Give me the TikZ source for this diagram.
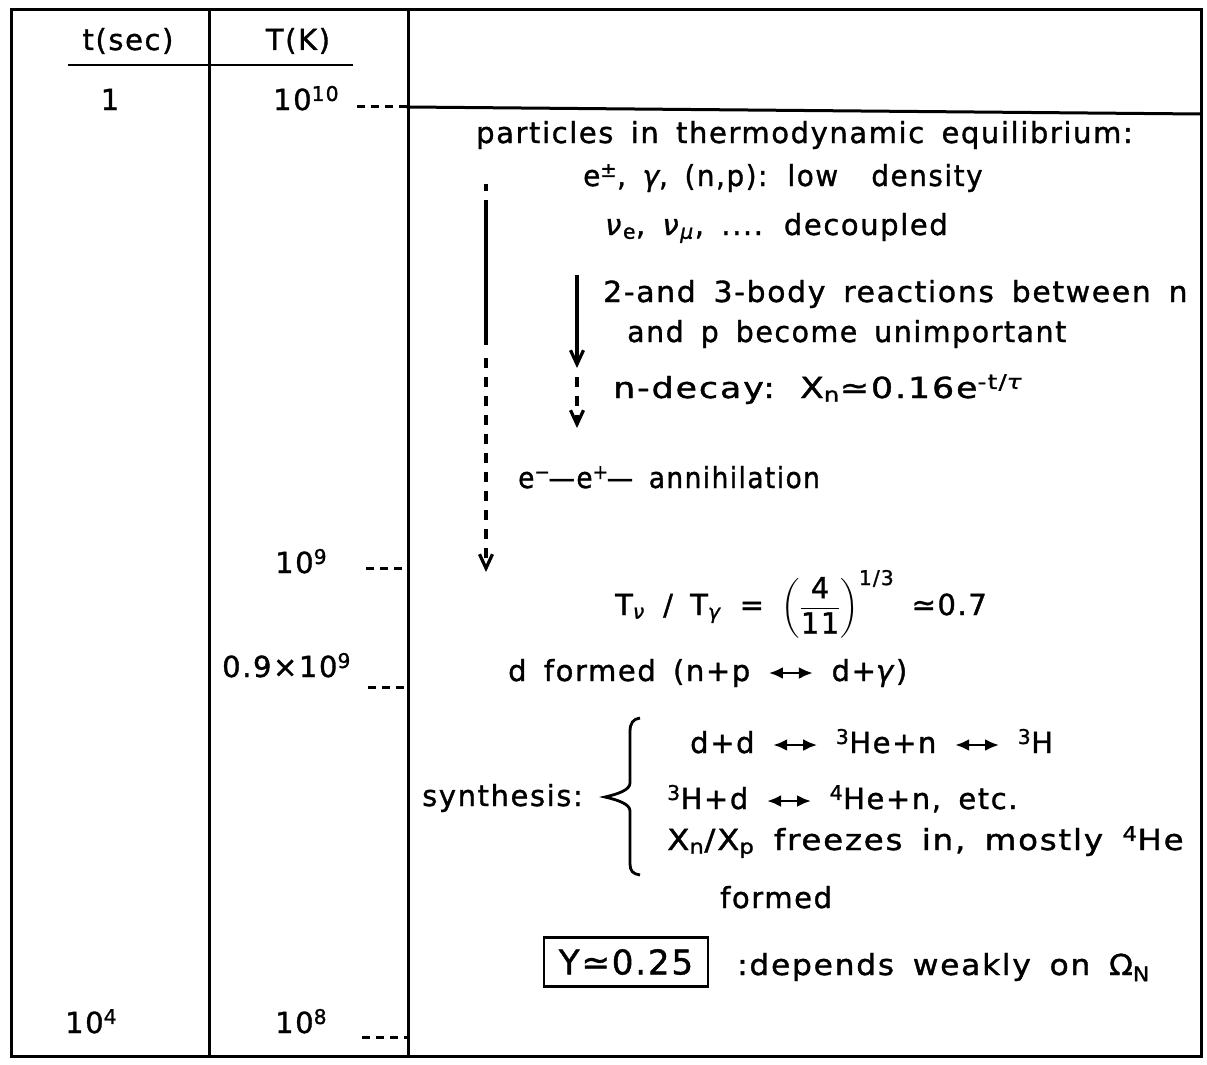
\documentclass[tikz,border=0pt]{standalone}
\usepackage{amsmath}
\usepackage{fontspec}
\setmainfont{DejaVu Sans}[LetterSpace=5.5,WordSpace=1.6,FakeBold=1.2]
\usetikzlibrary{arrows.meta}
\newcommand{\dblarr}{\tikz[baseline=-8pt]\draw[line width=2.8pt,{Latex[length=14pt,width=12pt]}-{Latex[length=14pt,width=12pt]}] (0pt,0pt) -- (44pt,0pt);}
\newcommand{\gk}[1]{\textit{#1}}
\newcommand{\hs}[2]{\scalebox{#1}[1]{#2}}
\begin{document}
\begin{tikzpicture}[x=1pt,y=-1pt,
  lbl/.style={inner sep=0pt,anchor=base west,font=\fontsize{29}{34}\selectfont},
  clbl/.style={lbl,anchor=base},
  frame/.style={line width=3pt,line cap=rect},
  tickdash/.style={line width=3pt,dash pattern=on 8pt off 6pt},
  flow/.style={line width=3.2pt},
  dflow/.style={line width=3.2pt,dash pattern=on 10pt off 9pt},
  vtip/.style={-{Straight Barb[length=14pt,width=13pt]}},
  ybox/.style={draw,line width=2.6pt,inner sep=0pt,minimum width=164pt,minimum height=49pt,font=\fontsize{34}{40}\selectfont}]
\useasboundingbox (0,0) rectangle (1207,1065);
% frame
\draw[frame] (11,10) rectangle (1201,1056);
\draw[frame] (209,10) -- (209,1056);
\draw[frame] (408,10) -- (408,1056);
\draw[frame] (408,107) -- (1201,114);
\draw[line width=2.8pt] (68,65) -- (353,65);
% left columns
\node[clbl] (hT) at (128,50) {t(sec)};
\node[clbl] (hK) at (298,50) {T(K)};
\node[clbl] (t1) at (110,110) {1};
\node[lbl] (k1) at (273,110) {10\textsuperscript{10}};
\node[lbl] (k2) at (275,573) {10\textsuperscript{9}};
\node[lbl] (k3) at (222,677) {0.9×10\textsuperscript{9}};
\node[lbl] (t2) at (65,1033) {10\textsuperscript{4}};
\node[lbl] (k4) at (275,1033) {10\textsuperscript{8}};
% ticks
\coordinate (k1a) at (357,106); \coordinate (k1b) at (408,106);
\coordinate (k2a) at (366,568); \coordinate (k2b) at (408,568);
\coordinate (k3a) at (368,687); \coordinate (k3b) at (408,687);
\coordinate (k4a) at (362,1037); \coordinate (k4b) at (408,1037);
\draw[tickdash] (k1a) -- (k1b);
\draw[tickdash] (k2a) -- (k2b);
\draw[tickdash] (k3a) -- (k3b);
\draw[tickdash] (k4a) -- (k4b);
% right column texts
\node[lbl] (p1) at (476,143) {particles in thermodynamic equilibrium:};
\node[lbl] (p2) at (583,186) {\hs{0.96}{e\textsuperscript{±}, \gk{γ}, (n,p): low\ \ density}};
\node[lbl] (p3) at (605,235) {\gk{ν}\textsubscript{e}, \gk{ν}\textsubscript{\gk{μ}}, .... decoupled};
\node[lbl] (p4) at (603,302) {\hs{1.03}{2-and 3-body reactions between n}};
\node[lbl] (p5) at (627,342) {\hs{0.98}{and p become unimportant}};
\node[lbl] (p6) at (613,398) {\hs{1.2}{n-decay: X\textsubscript{n}≃0.16e\textsuperscript{-t/\gk{τ}}}};
\node[lbl] (p7) at (518,488) {\hs{0.91}{e\textsuperscript{−}\kern-2pt—e\textsuperscript{+}\kern-2pt— annihilation}};
\node[lbl] (p8) at (615,615) {T\textsubscript{\gk{ν}} / T\textsubscript{\gk{γ}} = $\left(\dfrac{\text{4}}{\text{11}}\right)^{\text{1/3}}$ ≃0.7};
\node[lbl] (p9) at (508,681) {d formed (n+p \dblarr\ d+\gk{γ})};
\node[lbl] (syn) at (422,806) {synthesis:};
\node[lbl] (s1) at (690,753) {d+d \dblarr\ \textsuperscript{3}He+n \dblarr\ \textsuperscript{3}H};
\node[lbl] (s2) at (667,809) {\textsuperscript{3}H+d \dblarr\ \textsuperscript{4}He+n, etc.};
\node[lbl] (s3) at (667,850) {\hs{1.12}{X\textsubscript{n}/X\textsubscript{p} freezes in, mostly \textsuperscript{4}He}};
\node[lbl] (s4) at (720,908) {formed};
\node[ybox] (yb) at (626,962) {Y≃0.25};
\node[lbl] (dep) at (737,975) {\hs{1.08}{:depends weakly on Ω\textsubscript{N}}};
% brace
\draw[line width=2.8pt] (640,718) .. controls (633,719) and (630,723) .. (630,732) -- (630,783) .. controls (630,790) and (618,794) .. (605,797) .. controls (618,800) and (630,804) .. (630,811) -- (630,864) .. controls (630,871) and (633,874) .. (640,875);
% long flow arrow
\coordinate (la0) at (486,184); \coordinate (la1) at (486,191);
\coordinate (la2) at (486,200); \coordinate (la3) at (486,345);
\coordinate (la4) at (486,358); \coordinate (la5) at (486,572);
\draw[flow] (la0) -- (la1);
\draw[flow] (la2) -- (la3);
\draw[dflow,vtip] (la4) -- (la5);
% short flow arrow
\coordinate (sa0) at (577,275); \coordinate (sa1) at (577,368);
\coordinate (sa2) at (577,377); \coordinate (sa3) at (577,428);
\draw[flow,vtip] (sa0) -- (sa1);
\draw[dflow,vtip] (sa2) -- (sa3);
\end{tikzpicture}
\end{document}
